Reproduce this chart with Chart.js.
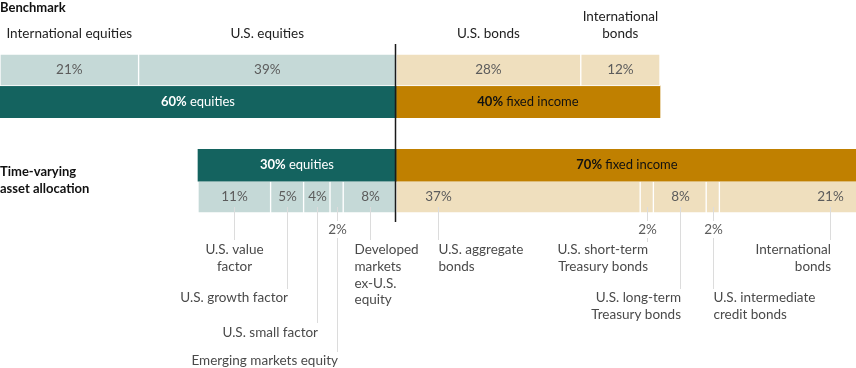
<!DOCTYPE html>
<html>
<head>
<meta charset="utf-8">
<script src="https://cdn.jsdelivr.net/npm/chart.js@4"></script>
<style>
  body { margin: 0; background: #fff; }
  #wrap { width: 856px; height: 368px; position: relative; }
</style>
</head>
<body>
<div id="wrap"><canvas id="myChart"></canvas></div>
<script>
// rows of the chart, top to bottom (the empty one is the gap between the two blocks)
const rows = ['benchDetail', 'benchSummary', 'gap', 'tvaaSummary', 'tvaaDetail'];

const benchLabels = ['International equities', 'U.S. equities', 'U.S. bonds', 'International\nbonds'];
const benchValues = [21, 39, 28, 12];
const benchEquityCount = 2;

const summaryLabels = ['equities', 'fixed income'];
const benchSummary = [60, 40];
const tvaaSummary = [30, 70];

const tvaaLabels = [
    'U.S. value\nfactor',
    'U.S. growth factor',
    'U.S. small factor',
    'Emerging markets equity',
    'Developed\nmarkets\nex-U.S.\nequity',
    'U.S. aggregate\nbonds',
    'U.S. short-term\nTreasury bonds',
    'U.S. long-term\nTreasury bonds',
    'U.S. intermediate\ncredit bonds',
    'International\nbonds',
];
const tvaaValues = [11, 5, 4, 2, 8, 37, 2, 8, 2, 21];
const tvaaEquityCount = 5;

// where each callout sits (fraction along its segment) and how its label is laid out
const tvaaCallouts = [
    { at: 0.5, align: 'center', textY: 250, lineTo: 240 },
    { at: 0.5, align: 'right', textY: 298, lineTo: 289 },
    { at: 0.5, align: 'right', textY: 333, lineTo: 323 },
    { at: 0.5, align: 'right', textY: 361, lineTo: 352, pctBelow: true },
    { at: 0.5, align: 'left', dx: -16, textY: 250, lineTo: 240 },
    { at: 0.17, align: 'left', textY: 250, lineTo: 240 },
    { at: 0.5, align: 'right', textY: 250, lineTo: 242, pctBelow: true },
    { at: 0.5, align: 'right', textY: 298, lineTo: 289 },
    { at: 0.5, align: 'left', textY: 298, lineTo: 289, pctBelow: true },
    { at: 0.8, align: 'right', textY: 250, lineTo: 240 },
];

const LIGHT_EQ = '#c5d9d7';
const LIGHT_FI = '#efdfbe';
const DARK_EQ = '#14635f';
const DARK_FI = '#c08000';
const FONT = 'Lato';

function segments(values, eqCount) {
    let start = -values.slice(0, eqCount).reduce((a, b) => a + b, 0);
    return values.map(v => {
        const seg = [start, start + v];
        start += v;
        return seg;
    });
}

const datasets = [];
function addRow(rowName, values, eqCount, light) {
    const rowIndex = rows.indexOf(rowName);
    segments(values, eqCount).forEach((seg, i) => {
        const isEq = i < eqCount;
        datasets.push({
            data: rows.map((r, j) => j === rowIndex ? seg : null),
            backgroundColor: light ? (isEq ? LIGHT_EQ : LIGHT_FI) : (isEq ? DARK_EQ : DARK_FI),
            borderColor: '#ffffff',
            borderWidth: light ? 1 : 0,
            borderSkipped: false,
            grouped: false,
            barPercentage: 1,
            categoryPercentage: 1,
        });
    });
}
addRow('benchDetail', benchValues, benchEquityCount, true);
addRow('benchSummary', benchSummary, 1, false);
addRow('tvaaSummary', tvaaSummary, 1, false);
addRow('tvaaDetail', tvaaValues, tvaaEquityCount, true);

function setFont(ctx, bold, size) {
    ctx.font = (bold ? 'bold ' : '') + (size || 13) + 'px ' + FONT;
}

function drawLines(ctx, lines, x, y, lineH) {
    lines.forEach((t, i) => ctx.fillText(t, x, y + i * lineH));
}

function drawMixed(ctx, boldPart, normalPart, cx, cy, color) {
    setFont(ctx, true);
    const wb = ctx.measureText(boldPart + ' ').width;
    setFont(ctx, false);
    const wn = ctx.measureText(normalPart).width;
    let x = cx - (wb + wn) / 2;
    ctx.fillStyle = color;
    ctx.textAlign = 'left';
    ctx.textBaseline = 'middle';
    setFont(ctx, true);
    ctx.fillText(boldPart, x, cy);
    setFont(ctx, false);
    ctx.fillText(normalPart, x + wb, cy);
}

const labelsPlugin = {
    id: 'labels',
    afterDatasetsDraw(chart) {
        const ctx = chart.ctx;
        const xs = chart.scales.x;
        const ys = chart.scales.y;
        const rowY = name => ys.getPixelForValue(rows.indexOf(name));
        const half = ys.height / rows.length / 2;
        const lineH = 16.7;
        ctx.save();

        // block titles
        ctx.fillStyle = '#111';
        ctx.textAlign = 'left';
        ctx.textBaseline = 'middle';
        setFont(ctx, true);
        ctx.fillText('Benchmark', 0, 8);
        drawLines(ctx, ['Time-varying', 'asset allocation'], 0, 172, 17);

        // benchmark detail: headers above, values inside
        const bSegs = segments(benchValues, benchEquityCount);
        const yB = rowY('benchDetail');
        bSegs.forEach((seg, i) => {
            const cx = (xs.getPixelForValue(seg[0]) + xs.getPixelForValue(seg[1])) / 2;
            setFont(ctx, false, 13.5);
            ctx.textAlign = 'center';
            ctx.fillStyle = '#5c5c5c';
            ctx.fillText(benchValues[i] + '%', cx, yB);
            const lines = benchLabels[i].split('\n');
            ctx.fillStyle = '#222';
            drawLines(ctx, lines, cx, 34 - (lines.length - 1) * 17, 17);
        });

        // summary rows
        [['benchSummary', benchSummary], ['tvaaSummary', tvaaSummary]].forEach(([name, vals]) => {
            const segs = segments(vals, 1);
            segs.forEach((seg, i) => {
                const cx = (xs.getPixelForValue(seg[0]) + xs.getPixelForValue(seg[1])) / 2;
                drawMixed(ctx, vals[i] + '%', summaryLabels[i], cx, rowY(name), i === 0 ? '#ffffff' : '#111');
            });
        });

        // time-varying detail with callouts
        const tSegs = segments(tvaaValues, tvaaEquityCount);
        const yT = rowY('tvaaDetail');
        const barBottom = yT + half;
        tSegs.forEach((seg, i) => {
            const c = tvaaCallouts[i];
            const x0 = xs.getPixelForValue(seg[0]);
            const x1 = xs.getPixelForValue(seg[1]);
            const lx = Math.round(x0 + (x1 - x0) * c.at) + 0.5;
            ctx.strokeStyle = '#dcdcdc';
            ctx.lineWidth = 1;
            ctx.beginPath();
            if (c.pctBelow) {
                ctx.moveTo(lx, barBottom - 6);
                ctx.lineTo(lx, 221);
                ctx.moveTo(lx, 238);
                ctx.lineTo(lx, c.lineTo);
            } else {
                ctx.moveTo(lx, barBottom - 6);
                ctx.lineTo(lx, c.lineTo);
            }
            ctx.stroke();

            setFont(ctx, false, 13.5);
            ctx.textBaseline = 'middle';
            ctx.textAlign = 'center';
            ctx.fillStyle = '#5c5c5c';
            ctx.fillText(tvaaValues[i] + '%', lx, c.pctBelow ? 230 : yT);

            ctx.fillStyle = '#4a4a4a';
            ctx.textAlign = c.align;
            const tx = c.align === 'right' ? lx + 0.5 : lx + (c.dx || 0);
            drawLines(ctx, tvaaLabels[i].split('\n'), tx, c.textY, lineH);
        });

        // divider between equities and fixed income
        const x0 = Math.round(xs.getPixelForValue(0)) - 0.5;
        ctx.strokeStyle = '#1a1a1a';
        ctx.lineWidth = 1.5;
        ctx.beginPath();
        ctx.moveTo(x0, 44);
        ctx.lineTo(x0, 222);
        ctx.stroke();
        ctx.restore();
    }
};

const config = {
    type: 'bar',
    data: {
        labels: rows,
        datasets: datasets,
    },
    options: {
        indexAxis: 'y',
        responsive: true,
        maintainAspectRatio: false,
        animation: false,
        layout: { padding: { top: 54, bottom: 155, left: 0, right: 0 } },
        scales: {
            x: { type: 'linear', min: -60, max: 69.7, display: false },
            y: { type: 'category', display: false, offset: true },
        },
        plugins: {
            legend: { display: false },
            tooltip: { enabled: false },
        },
    },
    plugins: [labelsPlugin],
};

const myChart = new Chart(document.getElementById('myChart'), config);
</script>
</body>
</html>
